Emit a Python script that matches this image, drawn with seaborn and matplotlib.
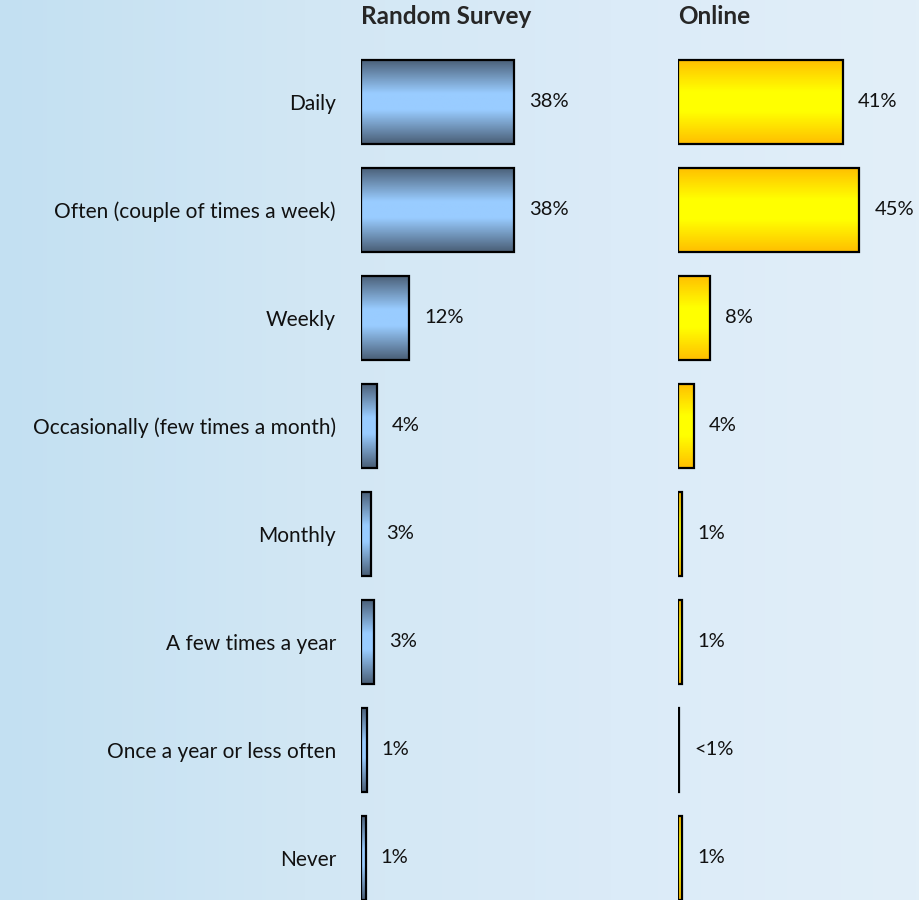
import numpy as np
import pandas as pd
import matplotlib
matplotlib.use('Agg')
import matplotlib.pyplot as plt
import seaborn as sns
from matplotlib.colors import LinearSegmentedColormap

sns.set_style('white')
plt.rcParams['font.family'] = ['Lato', 'DejaVu Sans']

categories = ['Daily', 'Often (couple of times a week)', 'Weekly',
              'Occasionally (few times a month)', 'Monthly', 'A few times a year',
              'Once a year or less often', 'Never']
random_vals = [38, 38, 12, 4, 2.6, 3.2, 1.4, 1.2]
random_labels = ['38%', '38%', '12%', '4%', '3%', '3%', '1%', '1%']
online_vals = [41, 45, 8, 4, 1, 1, 0.3, 1.1]
online_labels = ['41%', '45%', '8%', '4%', '1%', '1%', '<1%', '1%']

df = pd.DataFrame({'category': categories, 'random': random_vals, 'online': online_vals})

W, H = 920, 900
fig = plt.figure(figsize=(W / 100, H / 100), dpi=100)

# background gradient
bg = fig.add_axes([0, 0, 1, 1], zorder=-10)
grad = np.linspace(0, 1, 256).reshape(1, -1)
bg_cmap = LinearSegmentedColormap.from_list('bg', ['#c3e0f2', '#d2e7f4', '#dbebf8', '#e2eff8'])
bg.imshow(grad, aspect='auto', cmap=bg_cmap, extent=[0, 1, 0, 1])
bg.axis('off')

blue_cmap = LinearSegmentedColormap.from_list(
    'blue', [(0, '#4a5f77'), (0.4, '#99ccff'), (0.6, '#99ccff'), (1, '#4a5f77')])
gold_cmap = LinearSegmentedColormap.from_list(
    'gold', [(0, '#ffbf00'), (0.38, '#ffff00'), (0.62, '#ffff00'), (1, '#ffbf00')])

px = 4.03  # pixels per percent
top_px, row_px = 48, 108
y_bottom = 7 + (H - 858) / row_px


def panel(left_px, width_px, col, labels, cmap, title):
    ax = fig.add_axes([left_px / W, 0, width_px / W, (H - top_px) / H])
    ax.set_facecolor('none')
    sns.barplot(data=df, x=col, y='category', orient='h', ax=ax, color='#99ccff',
                edgecolor='black', linewidth=1.6, width=0.78, zorder=2)
    grad_v = np.linspace(0, 1, 100).reshape(-1, 1)
    for p, lab in zip(ax.patches, labels):
        x0, y0 = p.get_x(), p.get_y()
        w, h = p.get_width(), p.get_height()
        p.set_facecolor('none')
        im = ax.imshow(grad_v, cmap=cmap, aspect='auto', extent=[x0, x0 + w, y0 + h, y0],
                       zorder=1)
        im.set_clip_path(p)
        ax.text(x0 + w + 15 / px, y0 + h / 2, lab, va='center', ha='left', fontsize=14.5,
                color='#111111')
    ax.set_ylim(y_bottom, -0.5)
    ax.set_xlim(0, width_px / px)
    ax.set_xlabel('')
    ax.set_ylabel('')
    ax.set_xticks([])
    sns.despine(ax=ax, left=True, bottom=True)
    fig.text(left_px / W, 1 - 17 / H, title, fontsize=17.5, fontweight='bold',
             ha='left', va='center')
    return ax


ax1 = panel(361, 300, 'random', random_labels, blue_cmap, 'Random Survey')
ax1.tick_params(axis='y', length=0, pad=18, labelsize=15, labelcolor='#111111')
ax2 = panel(678, 242, 'online', online_labels, gold_cmap, 'Online')
ax2.set_yticks([])

fig.savefig('out.png', dpi=100)
